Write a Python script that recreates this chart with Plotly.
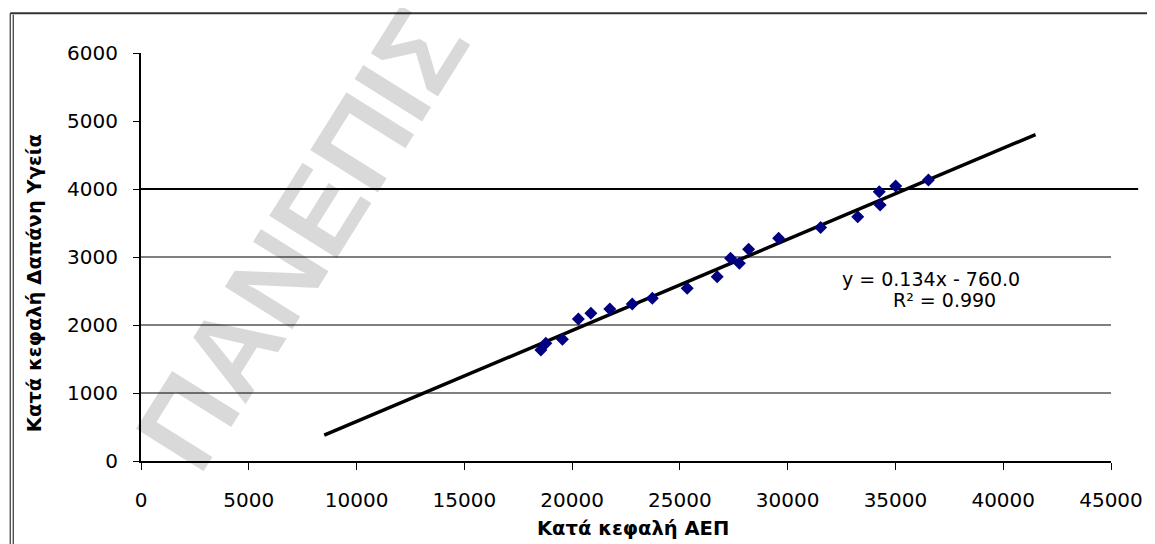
import plotly.graph_objects as go

# Data
gdp_per_capita = [18550, 18780, 19550, 20290, 20870, 21750, 22790, 23720, 25340, 26730,
                  27350, 27760, 28190, 29580, 31530, 33250, 34290, 34250, 35010, 36530]
health_per_capita = [1632, 1731, 1790, 2088, 2172, 2235, 2309, 2393, 2540, 2710,
                     2981, 2907, 3113, 3275, 3434, 3593, 3765, 3960, 4044, 4132]

trend_slope = 0.134
trend_intercept = -760.0
trend_x = [8500, 41500]
trend_y = [trend_slope * v + trend_intercept for v in trend_x]

x_ticks = [0, 5000, 10000, 15000, 20000, 25000, 30000, 35000, 40000, 45000]
y_ticks = [0, 1000, 2000, 3000, 4000, 5000, 6000]
grid_levels = [1000, 2000, 3000]
heavy_grid_level = 4000

x_title = "Κατά κεφαλή ΑΕΠ"
y_title = "Κατά κεφαλή Δαπάνη Υγεία"
eq_line1 = "y = 0.134x - 760.0"
eq_line2 = "R² = 0.990"
watermark = "ΠΑΝΕΠΙΣ"

FONT = "DejaVu Sans"

fig = go.Figure()

fig.add_trace(go.Scatter(
    x=trend_x, y=trend_y, mode="lines",
    line=dict(color="black", width=3.5),
    hoverinfo="skip", showlegend=False,
))
fig.add_trace(go.Scatter(
    x=gdp_per_capita, y=health_per_capita, mode="markers",
    marker=dict(symbol="diamond", size=10, color="#000080", line=dict(width=0)),
    showlegend=False,
))

shapes = []
for g in grid_levels:
    shapes.append(dict(type="line", xref="paper", yref="y", x0=0, x1=1, y0=g, y1=g,
                       line=dict(color="black", width=1), layer="below"))
shapes.append(dict(type="line", xref="paper", yref="y", x0=0, x1=1.028,
                   y0=heavy_grid_level, y1=heavy_grid_level,
                   line=dict(color="black", width=2), layer="below"))
# outer frame (top and double left line)
shapes.append(dict(type="line", xref="paper", yref="paper", x0=-0.1348, x1=1.05,
                   y0=1.0975, y1=1.0975, line=dict(color="#333333", width=2)))
shapes.append(dict(type="line", xref="paper", yref="paper", x0=-0.1348, x1=-0.1348,
                   y0=1.0975, y1=-0.25, line=dict(color="#333333", width=1.2)))
shapes.append(dict(type="line", xref="paper", yref="paper", x0=-0.1317, x1=-0.1317,
                   y0=1.094, y1=-0.25, line=dict(color="#333333", width=1.2)))

annotations = [
    dict(text="<b>" + watermark + "</b>", xref="paper", yref="paper", x=0.1656, y=0.544,
         textangle=-58, showarrow=False,
         font=dict(family="Liberation Sans", size=116, color="rgba(0,0,0,0.15)"),
         xanchor="center", yanchor="middle"),
    dict(text=eq_line1, xref="paper", yref="paper",
         x=(933 - 141) / 972, y=(461 - 279) / 408, showarrow=False,
         font=dict(family=FONT, size=19, color="black"), xanchor="center", yanchor="middle"),
    dict(text=eq_line2, xref="paper", yref="paper",
         x=(946 - 141) / 972, y=(461 - 300) / 408, showarrow=False,
         font=dict(family=FONT, size=19, color="black"), xanchor="center", yanchor="middle"),
    dict(text="<b>" + x_title + "</b>", xref="paper", yref="paper",
         x=(634 - 141) / 972, y=(461 - 528) / 408, showarrow=False,
         font=dict(family=FONT, size=19.5, color="black"), xanchor="center", yanchor="middle"),
    dict(text="<b>" + y_title + "</b>", xref="paper", yref="paper",
         x=(34 - 141) / 972, y=(461 - 283) / 408, showarrow=False, textangle=-90,
         font=dict(family=FONT, size=19.5, color="black"), xanchor="center", yanchor="middle"),
]

# the page body adds an 8px offset, so the figure is 8px smaller and margins shifted
fig.update_layout(
    width=1147, height=536,
    margin=dict(l=133, r=42, t=45, b=83),
    paper_bgcolor="white", plot_bgcolor="white",
    shapes=shapes, annotations=annotations,
    xaxis=dict(range=[0, 45000], tickvals=x_ticks, ticktext=[str(v) for v in x_ticks],
               showgrid=False, zeroline=False, showline=True, linecolor="black", linewidth=1.5,
               ticks="outside", ticklen=7, tickcolor="black", tickwidth=1,
               tickfont=dict(family=FONT, size=20, color="black"), ticklabelstandoff=13),
    yaxis=dict(range=[0, 6000], tickvals=y_ticks, ticktext=[str(v) for v in y_ticks],
               showgrid=False, zeroline=False, showline=True, linecolor="black", linewidth=2,
               ticks="outside", ticklen=6, tickcolor="black", tickwidth=1,
               tickfont=dict(family=FONT, size=20, color="black"), ticklabelstandoff=11),
    showlegend=False,
)

fig.write_html("out.html")
